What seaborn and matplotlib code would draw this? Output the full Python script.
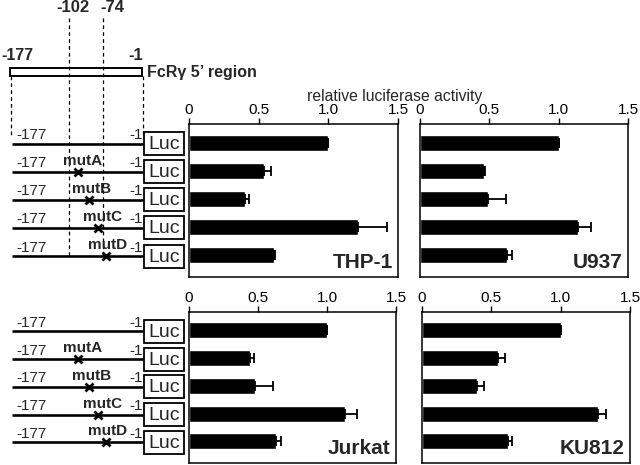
import numpy as np
import pandas as pd
import matplotlib
matplotlib.use("Agg")
import matplotlib.pyplot as plt
from matplotlib.patches import Rectangle
import seaborn as sns

sns.set_theme(style="white")
plt.rcParams['font.family'] = ['Liberation Sans', 'DejaVu Sans']

# data
constructs = ["wt", "mutA", "mutB", "mutC", "mutD"]
thp1 = [1.0, 0.54, 0.40, 1.21, 0.61]
thp1_err = [0.0, 0.05, 0.03, 0.21, 0.01]
u937 = [1.0, 0.46, 0.49, 1.14, 0.63]
u937_err = [0.0, 0.01, 0.13, 0.09, 0.03]
jurkat = [1.0, 0.44, 0.48, 1.13, 0.63]
jurkat_err = [0.0, 0.03, 0.13, 0.09, 0.04]
ku812 = [1.0, 0.55, 0.40, 1.27, 0.62]
ku812_err = [0.0, 0.05, 0.05, 0.06, 0.03]
xticks = [0, 0.5, 1.0, 1.5]
xtick_labels = ["0", "0.5", "1.0", "1.5"]

# schematic: mutation x-mark positions and label centres (pixels)
mut_names = ["", "mutA", "mutB", "mutC", "mutD"]
mut_x = [None, 78, 89, 98, 106]
mut_label_x = [None, 83, 92, 103, 108]

W, H = 640, 465
fig = plt.figure(figsize=(W / 100, H / 100), dpi=100)

# background axes in pixel coordinates for the diagram
ax0 = fig.add_axes([0, 0, 1, 1])
ax0.set_xlim(0, W)
ax0.set_ylim(H, 0)
ax0.axis("off")


def px_axes(x0, y0, x1, y1):
    return fig.add_axes([x0 / W, 1 - y1 / H, (x1 - x0) / W, (y1 - y0) / H])


panels = [
    ("THP-1", thp1, thp1_err, (189, 124, 398, 277)),
    ("U937", u937, u937_err, (420, 124, 628, 277)),
    ("Jurkat", jurkat, jurkat_err, (189, 312, 396, 463)),
    ("KU812", ku812, ku812_err, (422, 312, 630, 463)),
]

axes = []
for name, vals, errs, box in panels:
    ax = px_axes(*box)
    df = pd.DataFrame({"construct": constructs, "activity": vals})
    sns.barplot(data=df, x="activity", y="construct", orient="h", color="black",
                saturation=1, width=0.57, ax=ax)
    ax.errorbar(vals, np.arange(len(vals)), xerr=[np.zeros(len(vals)), errs],
                fmt="none", ecolor="black", elinewidth=1.3, capsize=3.5, capthick=1.3)
    ax.set_xlim(0, 1.5)
    ax.set_ylim(4.78, -0.66)
    ax.set_xticks(xticks)
    ax.set_xticklabels(xtick_labels)
    ax.xaxis.tick_top()
    ax.tick_params(axis="x", direction="out", length=4, width=1, pad=1,
                   labelsize=11, colors="black", top=True, bottom=False)
    ax.set_yticks([])
    ax.set_xlabel("")
    ax.set_ylabel("")
    for s in ax.spines.values():
        s.set_color("black")
        s.set_linewidth(1.1)
    ax.text(0.975, 0.035, name, transform=ax.transAxes, ha="right", va="bottom",
            fontsize=15, fontweight="bold")
    axes.append(ax)

fig.text(395 / W, 1 - 96 / H, "relative luciferase activity", ha="center",
         va="center", fontsize=11.3)

# top diagram
ax0.text(73, 8, "-102", ha="center", va="center", fontsize=12, fontweight="bold")
ax0.text(112, 8, "-74", ha="center", va="center", fontsize=12, fontweight="bold")
ax0.text(1, 55, "-177", ha="left", va="center", fontsize=11.5, fontweight="bold")
ax0.text(143, 55, "-1", ha="right", va="center", fontsize=12, fontweight="bold")
ax0.add_patch(Rectangle((10, 68), 132, 8, fill=False, ec="black", lw=1.4))
ax0.text(147, 72, "FcR\u03b3 5\u2019 region", ha="left", va="center",
         fontsize=11.5, fontweight="bold")
dash = dict(color="black", lw=0.9, ls=(0, (3, 2.5)))
ax0.plot([11, 11], [76, 136], **dash)
ax0.plot([143, 143], [76, 136], **dash)
ax0.plot([69, 69], [18, 256], **dash)
ax0.plot([103, 103], [18, 256], **dash)


def draw_rows(ax):
    fig.canvas.draw()
    for i in range(len(constructs)):
        _, yd = ax.transData.transform((0, i))
        y = H - yd + 1
        ax0.plot([12, 143], [y, y], color="black", lw=1.9, solid_capstyle="butt")
        ax0.text(16, y - 1.5, "-177", ha="left", va="bottom", fontsize=11)
        ax0.text(143, y - 1.5, "-1", ha="right", va="bottom", fontsize=11)
        ax0.add_patch(Rectangle((144, y - 11.5), 40, 23, fill=False, ec="black", lw=1.3))
        ax0.text(164, y + 1, "Luc", ha="center", va="center", fontsize=14)
        if mut_x[i] is not None:
            ax0.plot(mut_x[i], y, marker="x", color="black", ms=6, mew=2)
            ax0.text(mut_label_x[i], y - 4, mut_names[i], ha="center", va="bottom",
                     fontsize=11, fontweight="bold")


draw_rows(axes[0])
draw_rows(axes[2])

fig.savefig("out.png", dpi=100)
